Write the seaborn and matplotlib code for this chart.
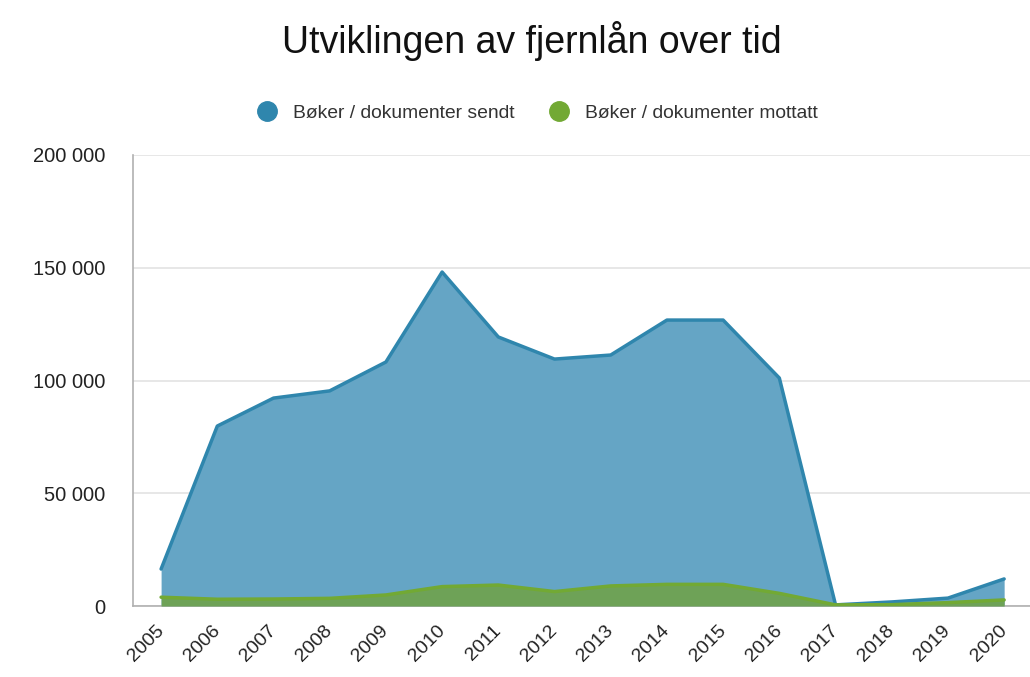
import pandas as pd
import numpy as np
import matplotlib.pyplot as plt
import seaborn as sns
from matplotlib.lines import Line2D
from matplotlib.ticker import FuncFormatter

years = list(range(2005, 2021))
sendt = [16400, 79800, 92200, 95400, 108200, 148100, 119300, 109500,
         111300, 126800, 126800, 101100, 500, 1800, 3500, 12000]
mottatt = [3900, 3000, 3100, 3400, 4900, 8600, 9300, 6400,
           8900, 9600, 9600, 5600, 500, 600, 1500, 2700]
series_names = ["Bøker / dokumenter sendt", "Bøker / dokumenter mottatt"]

BLUE_LINE = '#2f86ad'
BLUE_FILL = '#65a5c5'
GREEN_LINE = '#72a934'
GREEN_FILL = '#6ea257'

df = pd.DataFrame({'År': years, series_names[0]: sendt, series_names[1]: mottatt})

sns.set_style('white')
plt.rcParams['font.family'] = ['Liberation Sans', 'DejaVu Sans']

fig = plt.figure(figsize=(10.30, 6.77), dpi=100)
ax = fig.add_axes([133/1030, 1 - 606/677, (1030 - 133)/1030, (606 - 155)/677])

# filled areas
ax.fill_between(df['År'], df[series_names[0]], color=BLUE_FILL, lw=0, zorder=2)
ax.fill_between(df['År'], df[series_names[1]], color=GREEN_FILL, lw=0, zorder=3)
sns.lineplot(data=df, x='År', y=series_names[0], ax=ax, color=BLUE_LINE, lw=2.5, zorder=4)
sns.lineplot(data=df, x='År', y=series_names[1], ax=ax, color=GREEN_LINE, lw=2.5, zorder=5)

ax.set_xlim(2004.5, 2020.46)
ax.set_ylim(0, 200000)
ax.set_yticks([0, 50000, 100000, 150000, 200000])
ax.yaxis.set_major_formatter(FuncFormatter(lambda v, p: f'{int(v):,}'.replace(',', ' ')))
ax.set_xticks(years)
ax.set_xticklabels([str(y) for y in years], rotation=45, ha='right', va='center',
                   rotation_mode='anchor')
ax.tick_params(axis='x', labelsize=14, pad=16, length=0, colors='#222222')
ax.tick_params(axis='y', labelsize=14.5, pad=20, length=0, colors='#222222')
ax.set_xlabel('')
ax.set_ylabel('')

ax.yaxis.grid(True, color='#e3e3e3', lw=1.2, zorder=0)
ax.set_axisbelow(True)
for s in ['top', 'right']:
    ax.spines[s].set_visible(False)
ax.spines['left'].set_color('#b0b0b0')
ax.spines['bottom'].set_color('#b0b0b0')
ax.spines['left'].set_linewidth(1.2)
ax.spines['bottom'].set_linewidth(1.2)

fig.text(532/1030, 1 - 41/677, "Utviklingen av fjernlån over tid", ha='center', va='center',
         fontsize=27, color='#111111')

handles = [Line2D([], [], marker='o', ls='', color=BLUE_LINE, markersize=14),
           Line2D([], [], marker='o', ls='', color=GREEN_LINE, markersize=14)]
fig.legend(handles, series_names, loc='center', bbox_to_anchor=(533/1030, 1 - 113/677),
           ncol=2, frameon=False, fontsize=13.9, handletextpad=0.35, columnspacing=1.3,
           labelcolor='#333333')

fig.savefig('out.png', dpi=100)
